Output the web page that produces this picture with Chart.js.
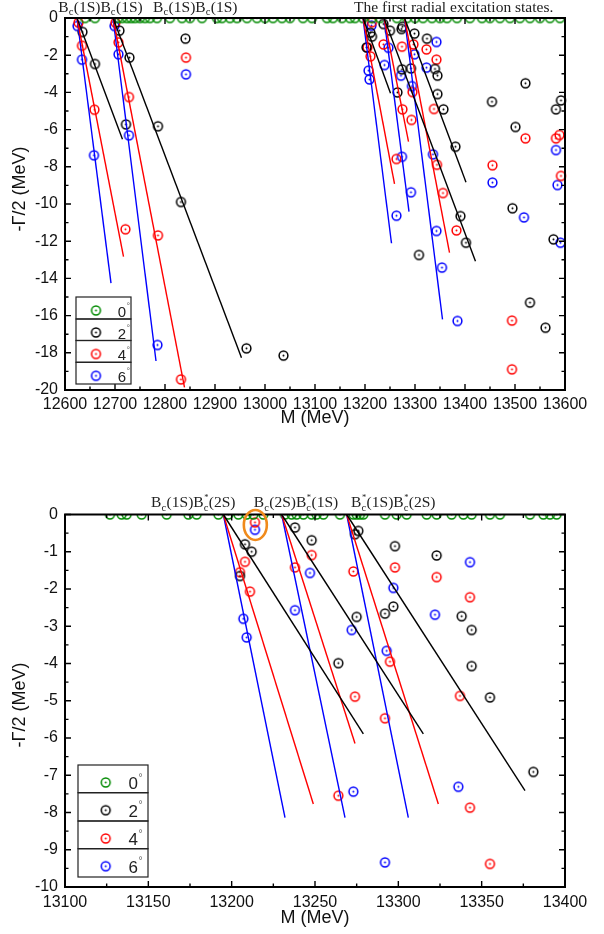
<!DOCTYPE html>
<html><head><meta charset="utf-8">
<script src="https://cdn.jsdelivr.net/npm/chart.js@4/dist/chart.umd.min.js"></script>
<style>
html,body{margin:0;padding:0;background:#fff;}
#wrap{position:relative;width:604px;height:934px;overflow:hidden;}
canvas{position:absolute;left:0;}
#c1{top:0;width:604px;height:440px;}
#c2{top:440px;width:604px;height:494px;}
</style></head><body>
<div id="wrap">
<canvas id="c1" width="604" height="440"></canvas>
<canvas id="c2" width="604" height="494"></canvas>
</div>
<script>
// ---------------- DATA: upper panel ----------------
const topXTicks = [12600,12700,12800,12900,13000,13100,13200,13300,13400,13500,13600];
const topYTicks = [0,-2,-4,-6,-8,-10,-12,-14,-16,-18,-20];
const topAnnotations = ['B_{c}(1S)B_{c}(1S)','B_{c}(1S)B_{c}(1S)','The first radial excitation states.'];

const topLineStart = [12624, 12696, 13196, 13238, 13279];
const topLine2EndM = [12715, 12953, 13251, 13421, 13402];
const topLine2EndG = [-6.52, -18.26, -4.05, -13.08, -8.83];
const topLine4EndM = [12717, 12839, 13259, 13287, 13369];
const topLine4EndG = [-12.83, -19.86, -8.92, -6.65, -12.62];
const topLine6EndM = [12692, 12782, 13253, 13288, 13355];
const topLine6EndG = [-14.25, -18.44, -12.11, -10.41, -16.2];

const top0M = [12640,12660,12706,12714,12724,12732,12740,12750,12760,12770,12784,12810,12834,12850,12874,12904,12914,12930,12944,12964,12984,13000,13016,13034,13050,13076,13094,13124,13136,13154,13170,13180,13196,13214,13230,13264,13284,13300,13316,13334,13350,13364,13384,13410,13434,13450,13470,13490,13510,13530,13550,13570,13590];
const top0G = [0,0,0,0,0,0,0,0,0,0,0,0,0,0,0,0,0,0,0,0,0,0,0,0,0,0,0,0,0,0,0,0,0,0,0,0,0,0,0,0,0,0,0,0,0,0,0,0,0,0,0,0,0];

const top2M = [12635,12660,12709,12729,12722,12786,12841,12832,12963,13037,
  13237,13250,13275,13273,13211,13214,13203,13299,13324,13340,13345,13274,13292,13265,13345,13357,13381,13391,13402,13308,
  13454,13501,13521,13582,13592,13495,13577,13530,13561];
const top2G = [-0.75,-2.47,-0.68,-2.13,-5.72,-5.82,-1.11,-9.89,-17.76,-18.15,
  -0.32,-0.68,-0.47,-0.59,-0.79,-1.0,-1.58,-0.84,-1.11,-2.74,-3.1,-2.76,-2.71,-4.0,-4.09,-4.91,-6.92,-10.65,-12.08,-12.74,
  -4.5,-5.86,-3.51,-4.91,-4.43,-10.23,-11.9,-15.3,-16.65];

const top4M = [12627,12634,12659,12701,12707,12728,12842,12721,12786,12832,
  13214,13205,13211,13237,13274,13297,13323,13343,13295,13275,13293,13338,13263,13344,13356,13383,
  13455,13521,13582,13589,13592,13494,13494];
const top4G = [-0.25,-1.49,-4.93,-0.25,-1.31,-4.25,-2.13,-11.36,-11.69,-19.43,
  -0.23,-1.58,-2.06,-1.42,-1.54,-1.42,-1.69,-2.24,-3.98,-4.91,-5.48,-4.89,-7.58,-7.89,-9.41,-11.42,
  -7.92,-6.47,-6.47,-6.29,-8.49,-16.27,-18.89];

const top6M = [12625,12634,12658,12699,12707,12728,12842,12785,
  13213,13343,13247,13299,13323,13207,13239,13209,13272,13294,13274,13336,13292,13263,13343,13354,13385,
  13455,13518,13582,13585,13591];
const top6G = [-0.43,-2.24,-7.38,-0.43,-1.95,-6.31,-3.03,-17.58,
  -0.41,-1.29,-1.6,-1.95,-2.67,-2.83,-2.53,-3.3,-3.1,-3.66,-7.46,-7.33,-9.37,-10.63,-11.45,-13.42,-16.29,
  -8.85,-10.72,-7.1,-8.98,-12.08];

// ---------------- DATA: lower panel ----------------
const botXTicks = [13100,13150,13200,13250,13300,13350,13400];
const botYTicks = [0,-1,-2,-3,-4,-5,-6,-7,-8,-9,-10];
const botAnnotations = ['B_{c}(1S)B_{c}^{*}(2S)','B_{c}(2S)B_{c}^{*}(1S)','B_{c}^{*}(1S)B_{c}^{*}(2S)'];

const botLineStart = [13195, 13230, 13269];
const botLine2EndM = [13279, 13315, 13376];
const botLine2EndG = [-5.89, -5.89, -7.41];
const botLine4EndM = [13249, 13274, 13324];
const botLine4EndG = [-7.77, -6.15, -7.77];
const botLine6EndM = [13232, 13268, 13306];
const botLine6EndG = [-8.14, -8.14, -8.14];

const bot0M = [13127,13134,13137,13146,13161,13174,13179,13192,13198,13204,13209,13213,13219,13232,13236,13239,13243,13248,13251,13255,13265,13273,13275,13277,13279,13292,13299,13305,13317,13323,13332,13339,13344,13355,13361,13379,13387,13391,13395];
const bot0G = [0,0,0,0,0,0,0,0,0,0,0,0,0,0,0,0,0,0,0,0,0,0,0,0,0,0,0,0,0,0,0,0,0,0,0,0,0,0,0];

const bot2M = [13208,13212,13205,13238,13248,13264,13276,13274,13298,13323,13338,13344,13344,13355,13275,13292,13297,13381];
const bot2G = [-0.80,-1.0,-1.65,-0.35,-0.69,-3.99,-0.44,-0.53,-0.85,-1.10,-2.73,-3.10,-4.07,-4.91,-2.75,-2.66,-2.47,-6.91];

const bot4M = [13214,13208,13205,13211,13248,13238,13273,13298,13323,13343,13337,13295,13274,13292,13343,13264,13355];
const bot4G = [-0.21,-1.27,-1.55,-2.07,-1.09,-1.42,-1.53,-1.42,-1.68,-2.22,-4.87,-3.95,-4.89,-5.47,-7.87,-7.55,-9.38];

const bot6M = [13214,13207,13209,13247,13238,13272,13297,13343,13322,13293,13336,13273,13292];
const bot6G = [-0.41,-2.80,-3.30,-1.57,-2.57,-3.10,-1.97,-1.28,-2.69,-3.66,-7.31,-7.44,-9.34];

const legendLabels = ['0','2','4','6'];
const highlightM = 13214.2, highlightG = -0.28;

// ---------------- STYLE ----------------
const COLORS = ['#008a00','#000000','#ff0000','#0000ff'];
function ring(color){
  const c=document.createElement('canvas'); c.width=13; c.height=13;
  const g=c.getContext('2d');
  g.strokeStyle=color; g.lineWidth=1.5;
  g.beginPath(); g.arc(6.5,6.5,4.4,0,Math.PI*2); g.stroke();
  g.fillStyle=color; g.beginPath(); g.arc(6.5,6.5,1.0,0,Math.PI*2); g.fill();
  return c;
}
const RINGS = COLORS.map(ring);

function pts(M,G){ return M.map((m,i)=>({x:m,y:G[i]})); }
function lineSets(starts, endM, endG, color){
  return starts.map((s,i)=>({
    data:[{x:s,y:0},{x:endM[i],y:endG[i]}], showLine:true, borderColor:color,
    borderWidth:1.4, pointRadius:0, pointHoverRadius:0, fill:false, clip:false, tension:0
  }));
}
function pointSet(M,G,idx,clip){
  return {data:pts(M,G), showLine:false, pointStyle:RINGS[idx], pointRadius:5,
    pointHoverRadius:5, clip:clip};
}

function parseRich(s){
  const out=[]; let i=0, buf='';
  while(i<s.length){
    const ch=s[i];
    if((ch==='_'||ch==='^')&&s[i+1]==='{'){
      if(buf){out.push({t:buf});buf='';}
      const j=s.indexOf('}',i); const txt=s.slice(i+2,j);
      const last=out[out.length-1];
      if(last && last.t===undefined){ if(ch==='_') last.sub=txt; else last.sup=txt; }
      else out.push(ch==='_'?{sub:txt}:{sup:txt});
      i=j+1;
    } else {buf+=ch;i++;}
  }
  if(buf) out.push({t:buf});
  return out;
}
function drawRich(ctx, s, cx, baseY, size){
  const parts=parseRich(s);
  const main=size+'px "Liberation Serif", "Times New Roman", serif';
  const small=(size*0.68)+'px "Liberation Serif", "Times New Roman", serif';
  const star=(size*0.55)+'px "Liberation Serif", serif';
  let w=0; const widths=[];
  parts.forEach(p=>{
    let pw;
    if(p.t!==undefined){ctx.font=main; pw=ctx.measureText(p.t).width;}
    else { ctx.font=small; const a=p.sub?ctx.measureText(p.sub).width:0; ctx.font=star; const b=p.sup?ctx.measureText(p.sup).width:0; pw=Math.max(a,b)+0.5; }
    widths.push(pw); w+=pw;
  });
  let x=cx-w/2;
  ctx.fillStyle='#222'; ctx.textAlign='left'; ctx.textBaseline='alphabetic';
  parts.forEach((p,i)=>{
    if(p.t!==undefined){ctx.font=main; ctx.fillText(p.t,x,baseY);}
    else {
      if(p.sub){ctx.font=small; ctx.fillText(p.sub,x,baseY+size*0.25);}
      if(p.sup){ctx.font=star; ctx.fillText(p.sup,x+0.5,baseY-size*0.42);}
    }
    x+=widths[i];
  });
}

function makeChart(canvas, cfg){
  const datasets=[]
    .concat(lineSets(cfg.lineStart,cfg.l2M,cfg.l2G,COLORS[1]))
    .concat(lineSets(cfg.lineStart,cfg.l4M,cfg.l4G,COLORS[2]))
    .concat(lineSets(cfg.lineStart,cfg.l6M,cfg.l6G,COLORS[3]))
    .concat([pointSet(cfg.p0M,cfg.p0G,0,0), pointSet(cfg.p2M,cfg.p2G,1,false),
             pointSet(cfg.p4M,cfg.p4G,2,false), pointSet(cfg.p6M,cfg.p6G,3,false)]);
  const tickFont={family:'"Liberation Sans", Arial, sans-serif', size:16};
  const deco={
    id:'deco',
    afterDatasetsDraw(chart){
      const ctx=chart.ctx, a=chart.chartArea, xs=chart.scales.x, ys=chart.scales.y;
      ctx.save();
      ctx.strokeStyle='#000'; ctx.lineWidth=2;
      ctx.strokeRect(a.left,a.top,a.right-a.left,a.bottom-a.top);
      ctx.lineWidth=1.4;
      ctx.beginPath();
      cfg.xTicks.forEach((v,i)=>{
        const xp=xs.getPixelForValue(v);
        ctx.moveTo(xp,a.bottom); ctx.lineTo(xp,a.bottom-6);
        ctx.moveTo(xp,a.top); ctx.lineTo(xp,a.top+6);
        if(i<cfg.xTicks.length-1){
          const xm=xs.getPixelForValue((v+cfg.xTicks[i+1])/2);
          ctx.moveTo(xm,a.bottom); ctx.lineTo(xm,a.bottom-3.5);
          ctx.moveTo(xm,a.top); ctx.lineTo(xm,a.top+3.5);
        }
      });
      cfg.yTicks.forEach((v,i)=>{
        const yp=ys.getPixelForValue(v);
        ctx.moveTo(a.left,yp); ctx.lineTo(a.left+6,yp);
        ctx.moveTo(a.right,yp); ctx.lineTo(a.right-6,yp);
        if(i<cfg.yTicks.length-1){
          const ym=ys.getPixelForValue((v+cfg.yTicks[i+1])/2);
          ctx.moveTo(a.left,ym); ctx.lineTo(a.left+3.5,ym);
          ctx.moveTo(a.right,ym); ctx.lineTo(a.right-3.5,ym);
        }
      });
      ctx.stroke();
      if(cfg.highlight){
        const hx=xs.getPixelForValue(cfg.highlight[0]), hy=ys.getPixelForValue(cfg.highlight[1]);
        ctx.strokeStyle='#f08a1c'; ctx.lineWidth=2.6;
        ctx.beginPath(); ctx.ellipse(hx,hy,11.5,15,0,0,Math.PI*2); ctx.stroke();
      }
      ctx.restore();
    },
    afterDraw(chart){
      const ctx=chart.ctx, a=chart.chartArea;
      ctx.save();
      // axis titles
      ctx.fillStyle='#111';
      ctx.font='18px "Liberation Sans", Arial, sans-serif';
      ctx.textAlign='center'; ctx.textBaseline='middle';
      ctx.fillText('M (MeV)',(a.left+a.right)/2,cfg.xTitleY);
      ctx.save(); ctx.translate(20,cfg.yTitleY); ctx.rotate(-Math.PI/2);
      ctx.fillText('-\u0393/2 (MeV)',0,0); ctx.restore();
      // annotations
      cfg.annotations.forEach((s,i)=>drawRich(ctx,s,cfg.annotX[i],cfg.annotY,cfg.annotSize));
      // legend
      const L=cfg.legend;
      ctx.strokeStyle='#222'; ctx.lineWidth=1.2;
      for(let i=0;i<4;i++){
        ctx.strokeRect(L.x0,L.rows[i],L.x1-L.x0,L.rows[i+1]-L.rows[i]);
        const img=RINGS[i];
        ctx.drawImage(img,L.mx-6.5,L.rows[i]+L.my-6.5);
        ctx.fillStyle='#222'; ctx.textAlign='right'; ctx.textBaseline='alphabetic';
        ctx.font=L.fs+'px "Liberation Sans", Arial, sans-serif';
        ctx.fillText(legendLabels[i],L.tx,L.rows[i]+L.ty);
        ctx.fillStyle='#666'; ctx.textAlign='left';
        ctx.font=(L.fs*0.6)+'px "Liberation Sans", Arial, sans-serif';
        ctx.fillText('\u00b0',L.tx+0.5,L.rows[i]+L.ty-L.fs*0.5);
      }
      ctx.restore();
    }
  };
  return new Chart(canvas,{
    type:'scatter',
    data:{datasets},
    options:{
      responsive:false, animation:false, devicePixelRatio:1,
      events:[],
      layout:{padding:{left:0,right:39,top:cfg.padTop,bottom:0}},
      plugins:{legend:{display:false},tooltip:{enabled:false}},
      scales:{
        x:{type:'linear',min:cfg.xTicks[0],max:cfg.xTicks[cfg.xTicks.length-1],
          afterBuildTicks:(s)=>{s.ticks=cfg.xTicks.map(v=>({value:v}));},
          afterFit:(s)=>{s.height=cfg.xAxisH;},
          grid:{display:false,drawTicks:false}, border:{display:false},
          ticks:{font:tickFont,color:'#111',padding:cfg.xPad,maxRotation:0,autoSkip:false,
            callback:(v)=>String(v)}},
        y:{type:'linear',min:cfg.yTicks[cfg.yTicks.length-1],max:0,
          afterBuildTicks:(s)=>{s.ticks=cfg.yTicks.map(v=>({value:v}));},
          afterFit:(s)=>{s.width=65;},
          grid:{display:false,drawTicks:false}, border:{display:false},
          ticks:{font:tickFont,color:'#111',padding:7,autoSkip:false,
            callback:(v)=>String(v)}}
      }
    },
    plugins:[deco]
  });
}

makeChart(document.getElementById('c1'),{
  lineStart:topLineStart, l2M:topLine2EndM,l2G:topLine2EndG,l4M:topLine4EndM,l4G:topLine4EndG,l6M:topLine6EndM,l6G:topLine6EndG,
  p0M:top0M,p0G:top0G,p2M:top2M,p2G:top2G,p4M:top4M,p4G:top4G,p6M:top6M,p6G:top6G,
  xTicks:topXTicks,yTicks:topYTicks,padTop:18,xAxisH:50,xPad:5,
  xTitleY:418,yTitleY:189,
  annotations:topAnnotations, annotX:[100.5,195.3,453.7], annotY:11.5, annotSize:15.5,
  legend:{x0:76,x1:131,rows:[297,319,340.5,362.3,384],mx:96,my:13.5,tx:126,ty:19.5,fs:15},
  highlight:null
});
makeChart(document.getElementById('c2'),{
  lineStart:botLineStart, l2M:botLine2EndM,l2G:botLine2EndG,l4M:botLine4EndM,l4G:botLine4EndG,l6M:botLine6EndM,l6G:botLine6EndG,
  p0M:bot0M,p0G:bot0G,p2M:bot2M,p2G:bot2G,p4M:bot4M,p4G:bot4G,p6M:bot6M,p6G:bot6G,
  xTicks:botXTicks,yTicks:botYTicks,padTop:74.5,xAxisH:47,xPad:6,
  xTitleY:478,yTitleY:265,
  annotations:botAnnotations, annotX:[193.3,296,393.3], annotY:66.7, annotSize:15.5,
  legend:{x0:78,x1:148,rows:[325,352.7,381,408.7,437],mx:105.7,my:17.5,tx:138,ty:24,fs:17},
  highlight:[highlightM,highlightG]
});
</script>
</body></html>
